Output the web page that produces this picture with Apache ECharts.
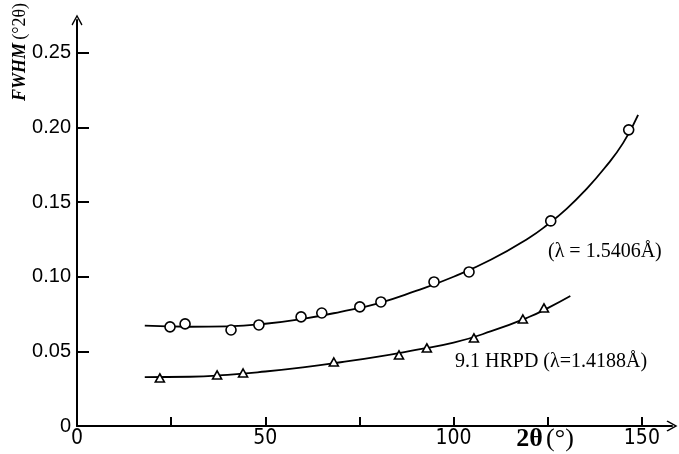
<!DOCTYPE html>
<html>
<head>
<meta charset="utf-8">
<script src="https://cdn.jsdelivr.net/npm/echarts@6/dist/echarts.min.js"></script>
<style>html,body{margin:0;padding:0;background:#fff;}#c{width:679px;height:454px;}</style>
</head>
<body>
<div id="c"></div>
<script>
// Measured points (2θ in degrees, FWHM in °2θ)
const circleX = [24.7, 28.7, 40.9, 48.3, 59.5, 65.0, 75.1, 80.7, 94.8, 104.1, 125.8, 146.5];
const circleY = [0.0664, 0.0684, 0.0643, 0.0677, 0.0731, 0.0757, 0.0798, 0.0831, 0.0965, 0.1032, 0.1374, 0.1984];
const triX = [22.0, 37.2, 44.1, 68.2, 85.5, 92.9, 105.4, 118.4, 124.0];
const triY = [0.0322, 0.0342, 0.0355, 0.0429, 0.0476, 0.0523, 0.0590, 0.0717, 0.0791];
// Fitted curves
const fitCuX = [18, 30, 40, 50, 60, 70, 80, 90, 100, 110, 120, 125, 130, 135, 140, 145, 149];
const fitCuY = [0.0672, 0.0665, 0.0668, 0.0685, 0.0718, 0.0765, 0.0822, 0.0905, 0.1000, 0.1115, 0.1260, 0.1350, 0.1455, 0.1580, 0.1725, 0.1895, 0.2085];
const fitHrX = [18, 30, 40, 50, 60, 70, 80, 90, 100, 110, 120, 125, 131];
const fitHrY = [0.0328, 0.0330, 0.0343, 0.0365, 0.0393, 0.0427, 0.0465, 0.0510, 0.0558, 0.0635, 0.0730, 0.0790, 0.0871];
// Ticks
const xTicks = [0, 25, 50, 75, 100, 125, 150];
const xLabels = [0, 50, 100, 150];
const yTicks = [0, 0.05, 0.10, 0.15, 0.20, 0.25];
const labelCu = '(λ = 1.5406Å)';
const labelHr = '9.1 HRPD (λ=1.4188Å)';

const zip = (a, b) => a.map((v, i) => [v, b[i]]);
const arrowPath = 'path://M5,0 L10,9 L9,10 L5,2.6 L1,10 L0,9 Z';

const chart = echarts.init(document.getElementById('c'), null, {renderer: 'canvas'});
chart.setOption({
  backgroundColor: '#fff',
  animation: false,
  grid: {left: 77, right: 7, top: 20, bottom: 28, containLabel: false, outerBoundsMode: 'none'},
  xAxis: {
    type: 'value', min: 0, max: 158,
    splitLine: {show: false},
    axisLine: {lineStyle: {color: '#000', width: 2}, symbol: ['none', arrowPath], symbolSize: [11, 14]},
    axisTick: {inside: true, length: 9, lineStyle: {color: '#000', width: 2}, customValues: xTicks},
    axisLabel: {customValues: xLabels, color: '#000', fontSize: 21, margin: 2,
      fontFamily: '"Liberation Sans Narrow", "DejaVu Sans Condensed", "Liberation Sans", sans-serif'}
  },
  yAxis: {
    type: 'value', min: 0, max: 0.272,
    splitLine: {show: false},
    axisLine: {lineStyle: {color: '#000', width: 2}, symbol: ['none', arrowPath], symbolSize: [11, 14]},
    axisTick: {inside: true, length: 12, lineStyle: {color: '#000', width: 2}, customValues: yTicks},
    axisLabel: {customValues: yTicks, color: '#000', fontSize: 20, margin: 6,
      fontFamily: '"Liberation Sans", sans-serif',
      formatter: v => v === 0 ? '0' : v.toFixed(2)}
  },
  graphic: [
    {type: 'text', x: 20, y: 52, rotation: Math.PI / 2,
      style: {text: '{a|FWHM} {b|(°2θ)}', align: 'center', verticalAlign: 'middle',
        rich: {a: {fontFamily: '"Liberation Serif", serif', fontStyle: 'italic', fontWeight: 'bold', fontSize: 18, fill: '#000'},
               b: {fontFamily: '"Liberation Serif", serif', fontSize: 18, fill: '#000'}}}},
    {type: 'text', x: 545, y: 439,
      style: {text: '{a|2θ} {b|(°)}', align: 'center', verticalAlign: 'middle',
        rich: {a: {fontFamily: '"Liberation Serif", serif', fontWeight: 'bold', fontSize: 26, fill: '#000'},
               b: {fontFamily: '"Liberation Serif", serif', fontSize: 26, fill: '#000'}}}},
    {type: 'text', x: 548, y: 252,
      style: {text: labelCu, verticalAlign: 'middle', fontFamily: '"Liberation Serif", serif', fontSize: 20, fill: '#000'}},
    {type: 'text', x: 455, y: 362,
      style: {text: labelHr, verticalAlign: 'middle', fontFamily: '"Liberation Serif", serif', fontSize: 20, fill: '#000'}}
  ],
  series: [
    {type: 'line', data: zip(fitCuX, fitCuY), smooth: 0.5, showSymbol: false,
      lineStyle: {color: '#000', width: 1.8}, z: 2},
    {type: 'line', data: zip(fitHrX, fitHrY), smooth: 0.5, showSymbol: false,
      lineStyle: {color: '#000', width: 1.8}, z: 2},
    {type: 'scatter', data: zip(circleX, circleY), symbol: 'circle', symbolSize: 10,
      itemStyle: {color: '#fff', borderColor: '#000', borderWidth: 1.6, opacity: 1}, z: 3},
    {type: 'scatter', data: zip(triX, triY), symbol: 'triangle', symbolSize: [9, 8],
      itemStyle: {color: '#fff', borderColor: '#000', borderWidth: 1.6, opacity: 1}, z: 3}
  ]
});
</script>
</body>
</html>
